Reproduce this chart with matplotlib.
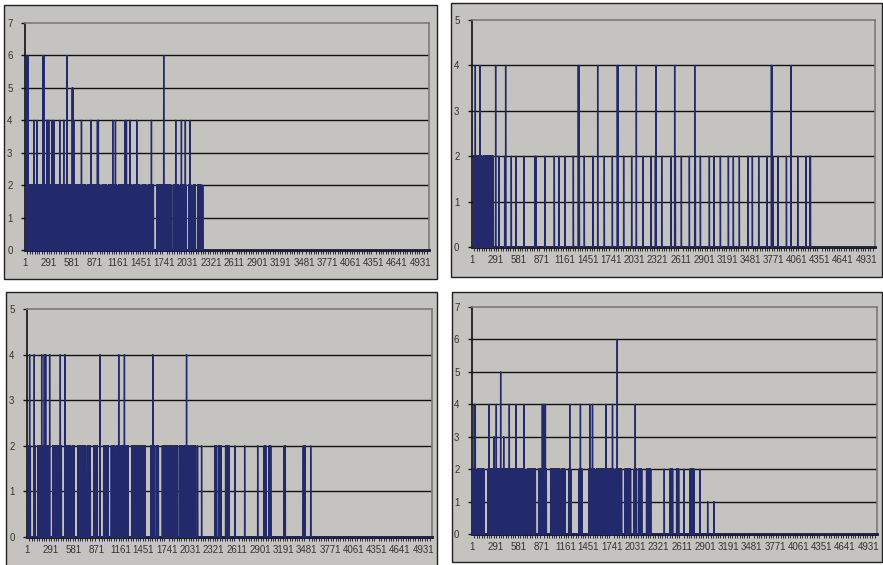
import numpy as np
import matplotlib
matplotlib.use("Agg")
import matplotlib.pyplot as plt
from matplotlib.patches import Rectangle

plt.rcParams['font.family'] = ['Liberation Sans', 'DejaVu Sans']

# number of categories on each x axis
n_points = 5040
tick_labels = [1, 291, 581, 871, 1161, 1451, 1741, 2031, 2321, 2611,
               2901, 3191, 3481, 3771, 4061, 4351, 4641, 4931]

# single spikes (category, value) and dense clusters (first, last, value)
p1_spikes = [(25, 6), (36, 6), (225, 6), (235, 6), (522, 6), (590, 5), (598, 5),
             (1731, 6), (110, 4), (152, 4), (272, 4), (285, 4), (297, 4), (335, 4),
             (360, 4), (434, 4), (484, 4), (609, 4), (705, 4), (825, 4), (904, 4),
             (916, 4), (1095, 4), (1129, 4), (1249, 4), (1266, 4), (1311, 4),
             (1395, 4), (1578, 4), (1881, 4), (1952, 4), (2001, 4), (2060, 4),
             (2218, 2)]
p1_blocks = [(56, 98, 2), (118, 214, 2), (243, 438, 2), (459, 597, 2), (617, 754, 2),
             (775, 813, 2), (838, 937, 2), (962, 1020, 2), (1045, 1145, 2),
             (1170, 1336, 2), (1357, 1436, 2), (1461, 1511, 2), (1536, 1603, 2),
             (1644, 1823, 2), (1852, 1918, 2), (1939, 2010, 2), (2043, 2072, 2),
             (2101, 2126, 2), (2155, 2197, 2)]

p2_spikes = [(42, 4), (100, 4), (296, 4), (421, 4), (1330, 4), (1336, 4), (1572, 4),
             (1818, 4), (1824, 4), (2056, 4), (2302, 4), (2535, 4), (2786, 4),
             (3028, 4), (3269, 4), (3507, 4), (3745, 4), (3750, 4), (3991, 4),
             (338, 2), (409, 2), (492, 2), (550, 2), (651, 2), (788, 2), (801, 2),
             (913, 2), (1030, 2), (1088, 2), (1163, 2), (1268, 2), (1343, 2),
             (1405, 2), (1514, 2), (1655, 2), (1756, 2), (1897, 2), (1997, 2),
             (2139, 2), (2239, 2), (2294, 2), (2373, 2), (2490, 2), (2544, 2),
             (2619, 2), (2719, 2), (2794, 2), (2857, 2), (2969, 2), (3028, 2),
             (3107, 2), (3207, 2), (3269, 2), (3344, 2), (3453, 2), (3507, 2),
             (3586, 2), (3691, 2), (3762, 2), (3828, 2), (3933, 2), (4074, 2),
             (4178, 2), (4233, 2), (4227, 2)]
p2_blocks = [(21, 33, 2), (54, 88, 2), (96, 125, 2), (146, 180, 2), (190, 230, 2),
             (238, 267, 2)]

p3_spikes = [(33, 4), (91, 4), (183, 4), (216, 4), (233, 4), (282, 4), (415, 4),
             (473, 4), (909, 4), (1142, 4), (1213, 4), (1566, 4), (1986, 4),
             (905, 2), (2123, 2), (2173, 2), (2588, 2), (2709, 2), (2871, 2), (3531, 2)]
p3_blocks = [(12, 42, 2), (91, 104, 2), (137, 266, 2), (324, 428, 2), (486, 544, 2),
             (573, 586, 2), (635, 681, 2), (698, 731, 2), (760, 789, 2), (831, 872, 2),
             (955, 1009, 2), (1051, 1092, 2), (1117, 1155, 2), (1175, 1258, 2),
             (1304, 1346, 2), (1370, 1412, 2), (1429, 1470, 2), (1541, 1582, 2),
             (1611, 1636, 2), (1686, 1707, 2), (1716, 1758, 2), (1774, 1807, 2),
             (1832, 1874, 2), (1903, 1932, 2), (1957, 2007, 2), (2032, 2098, 2),
             (2339, 2360, 2), (2389, 2414, 2), (2472, 2513, 2), (2954, 2970, 2),
             (3016, 3033, 2), (3203, 3215, 2), (3440, 3460, 2)]

p4_spikes = [(29, 4), (42, 4), (212, 4), (274, 3), (303, 4), (357, 5), (395, 3),
             (465, 4), (548, 4), (648, 4), (876, 4), (897, 4), (914, 4), (1217, 4),
             (1350, 4), (1466, 4), (1500, 4), (1666, 4), (1749, 4), (1808, 6),
             (2032, 4), (2393, 2), (2638, 2), (2838, 2), (2933, 1), (3012, 1)]
p4_blocks = [(12, 25, 2), (66, 150, 2), (199, 262, 2), (274, 324, 2), (336, 365, 2),
             (382, 656, 2), (689, 789, 2), (831, 889, 2), (905, 926, 2), (980, 1092, 2),
             (1113, 1155, 2), (1204, 1229, 2), (1333, 1371, 2), (1454, 1528, 2),
             (1550, 1612, 2), (1625, 1708, 2), (1716, 1766, 2), (1791, 1862, 2),
             (1903, 1974, 2), (2019, 2048, 2), (2077, 2111, 2), (2173, 2223, 2),
             (2464, 2497, 2), (2547, 2572, 2), (2713, 2763, 2)]

# (spikes, blocks, y max, plot area px [x0, x1, ytop, ybottom], box px [x0, x1, ytop, ybottom])
panels = [
    (p1_spikes, p1_blocks, 7, (25, 429, 23, 250), (4, 437, 5, 279)),
    (p2_spikes, p2_blocks, 5, (472, 875, 20, 247), (451, 882, 3, 277)),
    (p3_spikes, p3_blocks, 5, (27, 432, 309, 537), (6, 437, 292, 568)),
    (p4_spikes, p4_blocks, 7, (472, 877, 307, 534), (452, 882, 292, 562)),
]

W, H = 883, 565
bg = '#C5C3BF'
navy = '#222A6C'

fig = plt.figure(figsize=(W / 100, H / 100), dpi=100)
fig.patch.set_facecolor('white')

def build_series(spikes, blocks):
    y = np.zeros(n_points + 1)
    for a, b, h in blocks:
        y[a:b + 1:2] = h
    for c, h in spikes:
        y[c] = h
    return y[1:]

x = np.arange(1, n_points + 1)

for spikes, blocks, ymax, pa, box in panels:
    # chart area box, behind the axes
    fig.patches.append(Rectangle((box[0] / W, 1 - box[3] / H), (box[1] - box[0]) / W,
                                 (box[3] - box[2]) / H, transform=fig.transFigure,
                                 facecolor=bg, edgecolor='#202020', linewidth=1.0,
                                 zorder=-5))
    ax = fig.add_axes([pa[0] / W, 1 - pa[3] / H, (pa[1] - pa[0]) / W, (pa[3] - pa[2]) / H])
    ax.set_zorder(1)
    ax.set_facecolor(bg)
    y = build_series(spikes, blocks)
    ax.plot(x, y, color=navy, linewidth=1.0, clip_on=False, zorder=3)
    ax.set_xlim(0.5, n_points + 0.5)
    ax.set_ylim(0, ymax)
    for v in range(1, ymax):
        ax.axhline(v, color='#111111', linewidth=1.0, zorder=1)
    ax.set_yticks(range(0, ymax + 1))
    ax.set_xticks(tick_labels)
    ax.set_xticks(np.arange(1, n_points, 30), minor=True)
    ax.tick_params(axis='x', which='major', length=0, pad=6, labelsize=7, labelcolor='#333333')
    ax.tick_params(axis='x', which='minor', length=3, width=0.6, color='#111111', direction='out')
    ax.tick_params(axis='y', length=3, width=1, color='#111111', pad=6, labelsize=7,
                   labelcolor='#333333')
    for side in ('top', 'right'):
        ax.spines[side].set_color('#7A7A7A')
        ax.spines[side].set_linewidth(1.2)
    ax.spines['left'].set_color('#111111')
    ax.spines['left'].set_linewidth(1.2)
    ax.spines['bottom'].set_color('#111111')
    ax.spines['bottom'].set_linewidth(2.0)

fig.savefig('out.png', dpi=100, facecolor='white')
